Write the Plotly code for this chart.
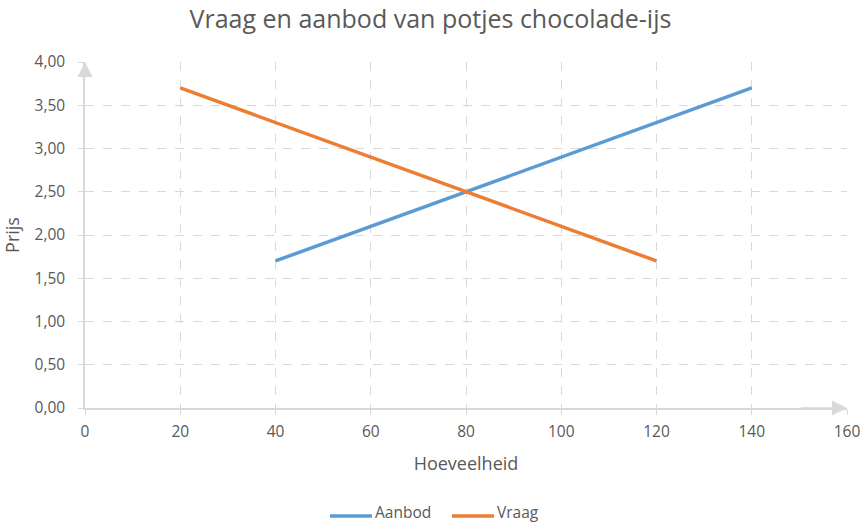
import plotly.graph_objects as go

# Hoeveelheid / prijs per reeks
aanbod_x = [40, 60, 80, 100, 120, 140]
aanbod_y = [1.7, 2.1, 2.5, 2.9, 3.3, 3.7]
vraag_x = [20, 40, 60, 80, 100, 120]
vraag_y = [3.7, 3.3, 2.9, 2.5, 2.1, 1.7]
series_names = ['Aanbod', 'Vraag']
series_colors = ['#5B9BD5', '#ED7D31']

x_ticks = [0, 20, 40, 60, 80, 100, 120, 140, 160]
y_ticks = [0, 0.5, 1.0, 1.5, 2.0, 2.5, 3.0, 3.5, 4.0]

grey = '#d9d9d9'
text_grey = '#595959'

fig = go.Figure()
for name, color, xs, ys in zip(series_names, series_colors,
                               [aanbod_x, vraag_x], [aanbod_y, vraag_y]):
    fig.add_trace(go.Scatter(x=xs, y=ys, name=name, mode='lines',
                             line=dict(color=color, width=3.5)))

fig.update_layout(
    width=861, height=524,
    margin=dict(l=85, r=14, t=62, b=116),
    plot_bgcolor='white', paper_bgcolor='white',
    separators=',.',
    showlegend=False,
    font=dict(family='Open Sans', size=15, color=text_grey),
    title=dict(text='Vraag en aanbod van potjes chocolade-ijs', x=0.5, xanchor='center',
               y=1 - 19 / 524, yanchor='middle', font=dict(size=25, color=text_grey)),
)

fig.update_xaxes(title_text='Hoeveelheid', title_standoff=16, automargin=False,
                 range=[0, 160], tickvals=x_ticks, showgrid=True, gridcolor=grey,
                 griddash='dash', showline=True, linecolor=grey, linewidth=1.5,
                 ticks='outside', tickcolor=grey, ticklen=5, zeroline=False,
                 ticklabelstandoff=4, tickfont=dict(size=15.5))
fig.update_yaxes(title_text='Prijs', title_standoff=12, automargin=False,
                 range=[0, 4], tickvals=y_ticks, tickformat='.2f', showgrid=True,
                 gridcolor=grey, griddash='dash', showline=True, linecolor=grey,
                 linewidth=1.5, ticks='outside', tickcolor=grey, ticklen=5, zeroline=False,
                 ticklabelstandoff=10, tickfont=dict(size=15.5))

# Pijlpunten aan de uiteinden van de assen
for x, y, ax, ay in [(160, 0, 150, 0), (0, 4, 0, 3.8)]:
    fig.add_annotation(x=x, y=y, ax=ax, ay=ay, xref='x', yref='y', axref='x', ayref='y',
                       text='', showarrow=True, arrowhead=2, arrowsize=2,
                       arrowwidth=1.5, arrowcolor=grey)

# Legenda onderaan (handmatig, zodat de marges niet verschuiven)
plot_w, plot_h = 861 - 85 - 14, 524 - 62 - 116
line_y = (408 - 516) / plot_h
text_y = (408 - 512) / plot_h
for name, color, x0 in zip(series_names, series_colors, [330, 452]):
    fig.add_shape(type='line', xref='paper', yref='paper',
                  x0=(x0 - 85) / plot_w, x1=(x0 + 42 - 85) / plot_w, y0=line_y, y1=line_y,
                  line=dict(color=color, width=3.5))
    fig.add_annotation(xref='paper', yref='paper', x=(x0 + 43 - 85) / plot_w, y=text_y,
                       xanchor='left', yanchor='middle', text=name, showarrow=False,
                       font=dict(size=15.5, color=text_grey))

# body-marge van de pagina weghalen zodat de figuur precies in het venster past
fig.write_html('out.html', config={'displayModeBar': False},
               post_script="document.body.style.margin='0';")
